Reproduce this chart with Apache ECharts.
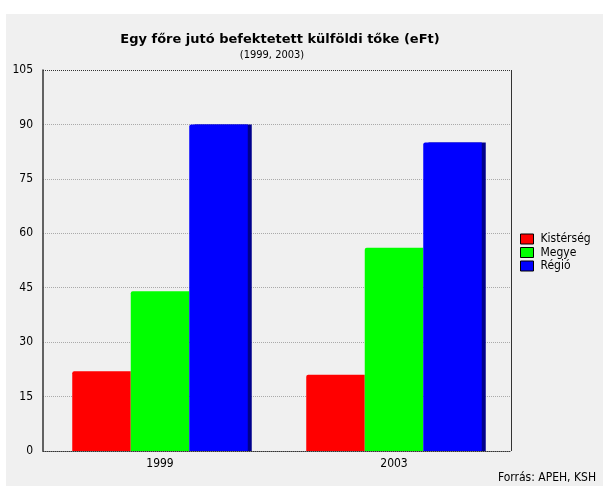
<!DOCTYPE html>
<html>
<head>
<meta charset="utf-8">
<script src="https://cdn.jsdelivr.net/npm/echarts@6/dist/echarts.min.js"></script>
<style>
html, body { margin: 0; padding: 0; background: #ffffff; }
#chart { position: absolute; left: 6px; top: 14px; width: 597px; height: 472px; background: #f0f0f0; }
</style>
</head>
<body>
<div id="chart"></div>
<script>
// adatok
var years = ['1999', '2003'];
var seriesNames = ['Kistérség', 'Megye', 'Régió'];
var kisterseg = [22, 21];
var megye = [44, 56];
var regio = [90, 85];
var colors = ['#ff0000', '#00ff00', '#0000ff'];
var shadows = ['transparent', 'transparent', '#00008c'];

var font = 'DejaVu Sans Condensed, DejaVu Sans, sans-serif';
var narrow = 'Liberation Sans Narrow, DejaVu Sans Condensed, sans-serif';
var myChart = echarts.init(document.getElementById('chart'));

function bar(name, data, i) {
    return {
        name: name,
        type: 'bar',
        data: data,
        barWidth: '25%',
        barGap: '0%',
        itemStyle: {
            color: colors[i],
            borderWidth: 0,
            borderRadius: [2, 0, 0, 0],
            shadowColor: shadows[i],
            shadowOffsetX: 4,
            shadowBlur: 0
        },
        emphasis: { disabled: true }
    };
}

var option = {
    animation: false,
    title: [{
        text: 'Egy főre jutó befektetett külföldi tőke (eFt)',
        left: 269,
        top: 14,
        textAlign: 'center',
        textStyle: { fontFamily: 'DejaVu Sans, sans-serif', fontSize: 13, fontWeight: 'bold', color: '#000' }
    }, {
        text: '(1999, 2003)',
        left: 261,
        top: 31,
        textAlign: 'center',
        textStyle: { fontFamily: narrow, fontSize: 11, fontWeight: 'normal', color: '#000' }
    }],
    legend: {
        orient: 'vertical',
        left: 514,
        top: 219,
        padding: 0,
        itemWidth: 13,
        itemHeight: 10,
        itemGap: 1.5,
        icon: 'rect',
        data: seriesNames,
        itemStyle: { borderColor: '#000', borderWidth: 1, shadowBlur: 0, shadowOffsetX: 0, shadowColor: 'transparent' },
        textStyle: { fontFamily: narrow, fontSize: 12, color: '#000', padding: [0, 0, 0, 2] }
    },
    grid: { left: 37, top: 56, right: 92, bottom: 35 },
    xAxis: {
        type: 'category',
        data: years,
        axisLine: { lineStyle: { color: '#333', type: 'dotted', width: 1 } },
        axisTick: { show: false },
        axisLabel: { fontFamily: font, fontSize: 12, color: '#000', margin: 7 }
    },
    yAxis: {
        type: 'value',
        min: 0,
        max: 105,
        interval: 15,
        axisLine: { show: true, lineStyle: { color: '#333', width: 1.5 } },
        axisTick: { show: false },
        axisLabel: { fontFamily: font, fontSize: 12, color: '#000', margin: 10 },
        splitLine: { lineStyle: { color: '#aaa', type: 'dotted' } }
    },
    series: [
        bar(seriesNames[0], kisterseg, 0),
        bar(seriesNames[1], megye, 1),
        bar(seriesNames[2], regio, 2)
    ]
};
myChart.setOption(option);

// keret a rajzterület körül (felső pontozott, jobb folytonos) + forrás
var rect = myChart.getModel().getComponent('grid').coordinateSystem.getRect();
myChart.setOption({
    graphic: [
        {
            type: 'text',
            right: 7,
            top: 458,
            style: { text: 'Forrás: APEH, KSH', font: '12px ' + font, fill: '#000' }
        },
        {
            type: 'line',
            shape: { x1: rect.x, y1: rect.y + 0.5, x2: rect.x + rect.width, y2: rect.y + 0.5 },
            style: { stroke: '#333', lineDash: [1, 1], lineWidth: 1 }
        },
        {
            type: 'line',
            shape: { x1: rect.x + rect.width + 0.5, y1: rect.y, x2: rect.x + rect.width + 0.5, y2: rect.y + rect.height },
            style: { stroke: '#333', lineWidth: 1 }
        }
    ]
});
</script>
</body>
</html>
